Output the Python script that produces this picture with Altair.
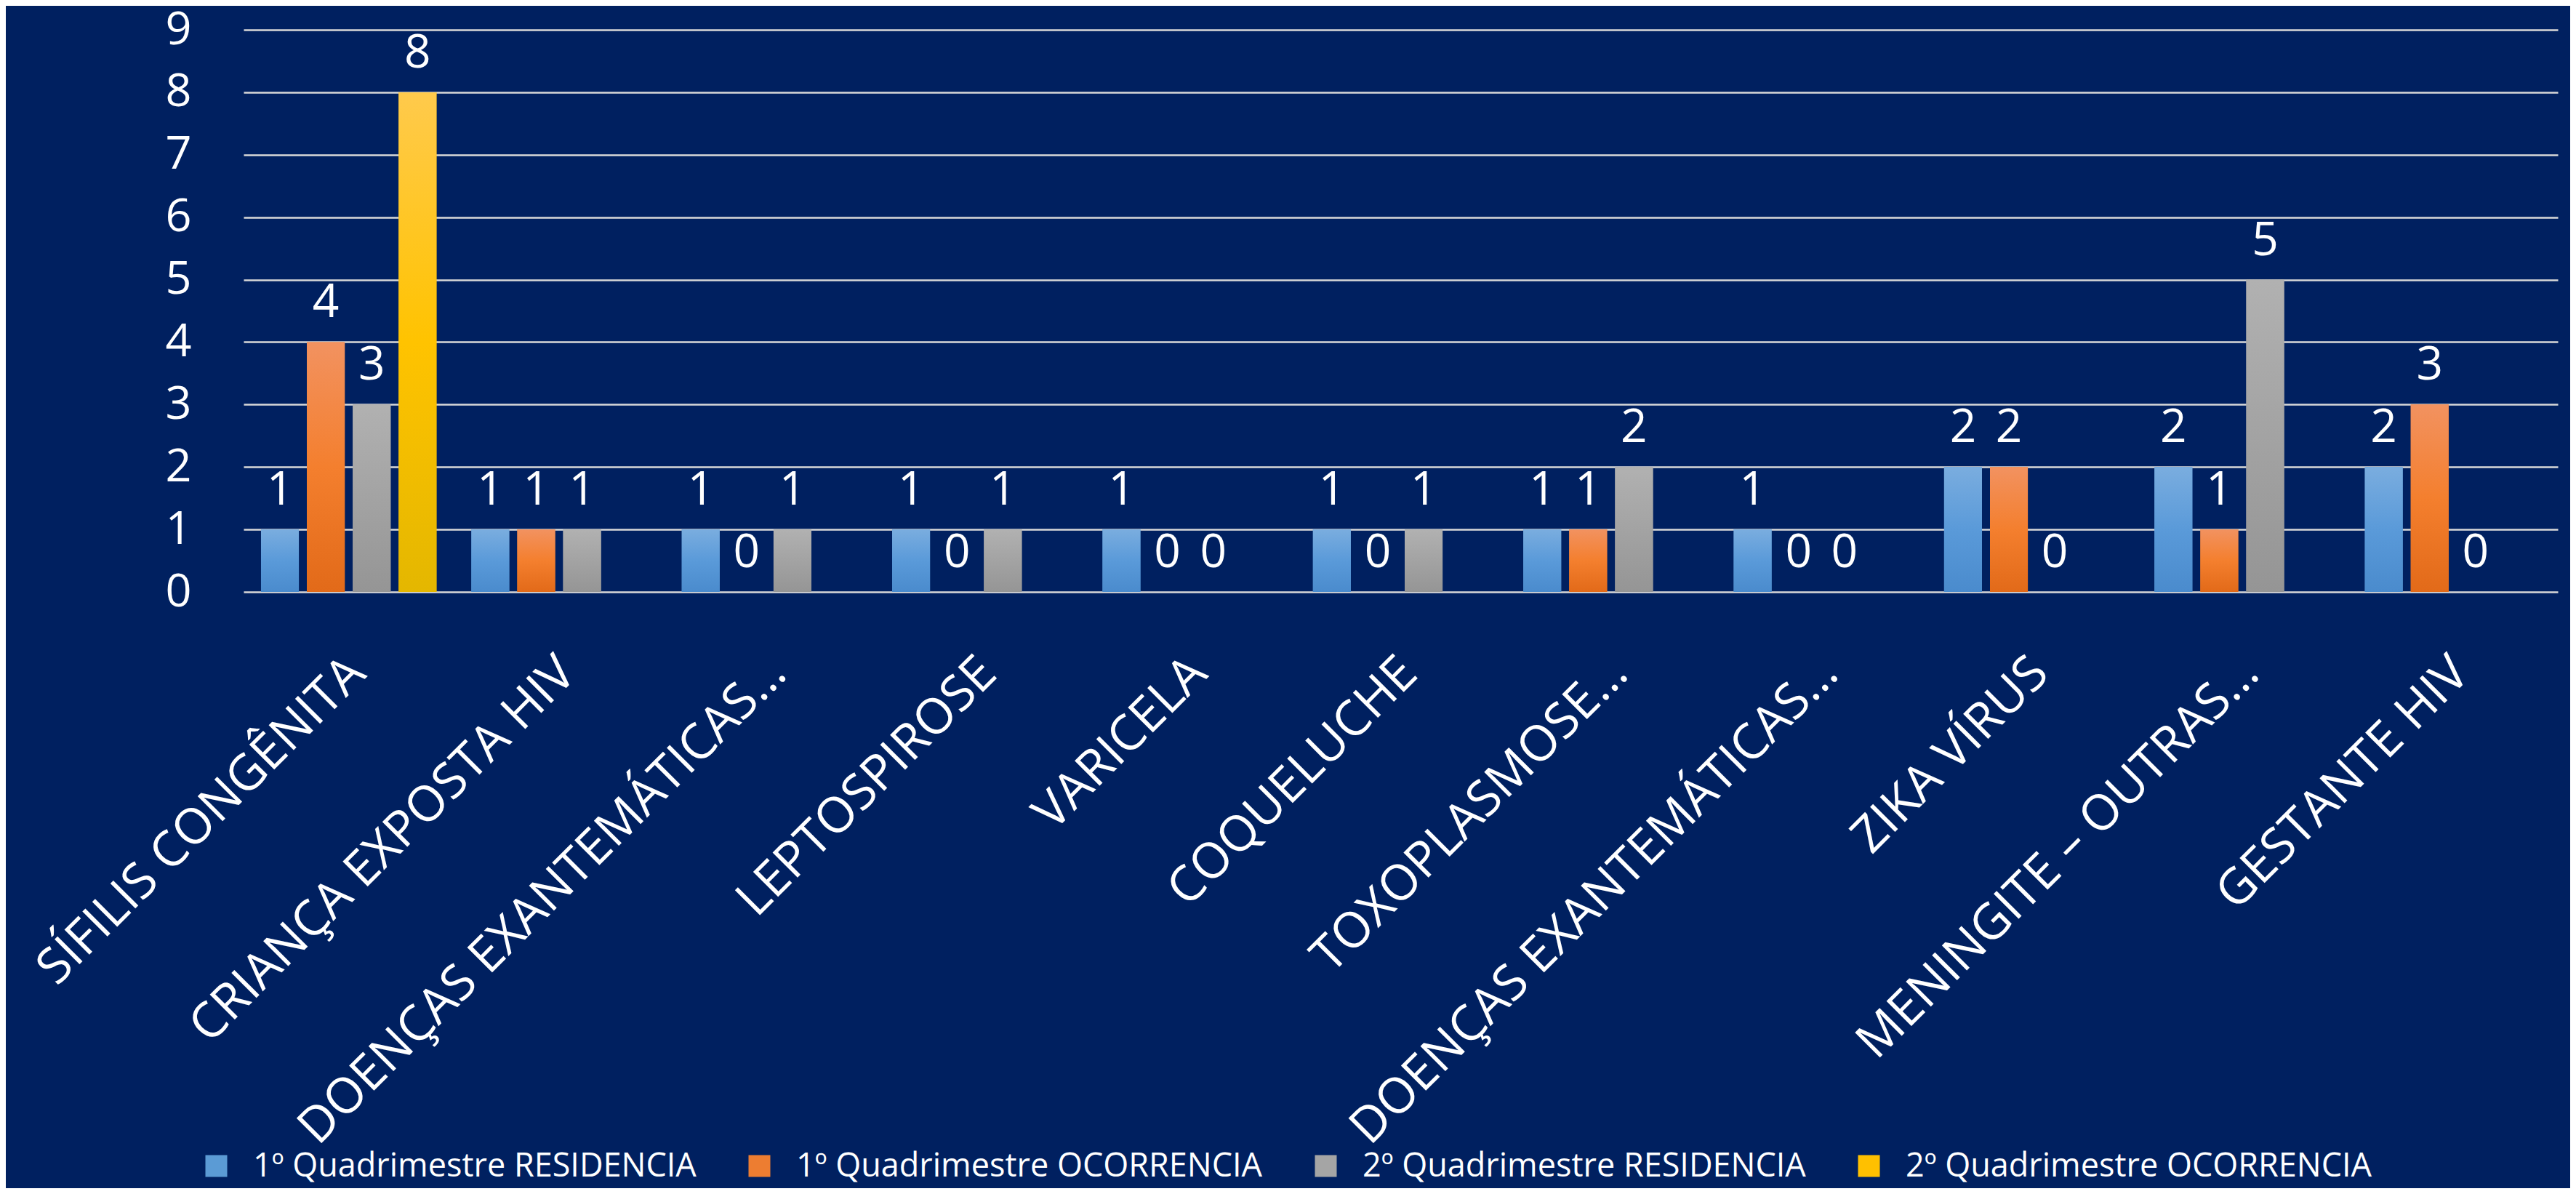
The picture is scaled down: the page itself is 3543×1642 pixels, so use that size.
import altair as alt
import pandas as pd

categories = [
    "SÍFILIS CONGÊNITA",
    "CRIANÇA EXPOSTA HIV",
    "DOENÇAS EXANTEMÁTICAS…",
    "LEPTOSPIROSE",
    "VARICELA",
    "COQUELUCHE",
    "TOXOPLASMOSE…",
    "DOENÇAS EXANTEMÁTICAS…\u200b",
    "ZIKA VÍRUS",
    "MENINGITE – OUTRAS…",
    "GESTANTE HIV",
]
series = [
    "1º Quadrimestre RESIDENCIA",
    "1º Quadrimestre OCORRENCIA",
    "2º Quadrimestre RESIDENCIA",
    "2º Quadrimestre OCORRENCIA",
]
res1 = [1, 1, 1, 1, 1, 1, 1, 1, 2, 2, 2]
oco1 = [4, 1, 0, 0, 0, 0, 1, 0, 2, 1, 3]
res2 = [3, 1, 1, 1, 0, 1, 2, 0, 0, 5, 0]
oco2 = [8, None, None, None, None, None, None, None, None, None, None]

solid_colors = ["#5b9bd5", "#ed7d31", "#a5a5a5", "#ffc000"]
gradients = [
    [("#7aaddf", 0), ("#5a9ad9", 0.5), ("#4a8bcd", 1)],
    [("#f29260", 0), ("#f47f2e", 0.5), ("#e26a19", 1)],
    [("#b1b1b1", 0), ("#a3a3a3", 0.5), ("#959595", 1)],
    [("#ffca4c", 0), ("#ffc300", 0.5), ("#e4b700", 1)],
]

rows = []
for s, vals in zip(series, [res1, oco1, res2, oco2]):
    for c, v in zip(categories, vals):
        if v is not None:
            rows.append({"cat": c, "series": s, "value": v})
df = pd.DataFrame(rows)

FONT = "Open Sans"

x = alt.X("cat:N", sort=categories,
          scale=alt.Scale(domain=categories, paddingInner=0, paddingOuter=0),
          axis=alt.Axis(title=None, labelAngle=315, labelAlign="right", labelBaseline="top",
                        labelPadding=77, labelOffset=-12, labelFontSize=68, labelColor="white",
                        labelFont=FONT, ticks=False, domain=False, grid=False,
                        labelLimit=1200, labelOverlap=False,
                        labelExpr="replace(datum.label, '\u200b', '')"))
xo = alt.XOffset("series:N", sort=series,
                 scale=alt.Scale(domain=series, paddingInner=0.175, paddingOuter=0.38))
y = alt.Y("value:Q", scale=alt.Scale(domain=[0, 9], nice=False),
          axis=alt.Axis(title=None, values=list(range(10)), tickCount=10, labelFontSize=63,
                        labelColor="white", labelFont=FONT, labelPadding=72, ticks=False,
                        domain=False, grid=True, gridColor="#d9d9d9", gridWidth=2.5))

base = alt.Chart(df).encode(x=x, xOffset=xo, y=y)

bars = base.mark_bar().encode(
    color=alt.Color("series:N", sort=series,
                    scale=alt.Scale(domain=series, range=solid_colors),
                    legend=alt.Legend(title=None, orient="none", direction="horizontal",
                                      columns=4, gridAlign="none",
                                      legendX=-60, legendY=1540, padding=0,
                                      labelFont=FONT, labelFontSize=45, labelColor="white",
                                      labelLimit=1200, labelOffset=28, columnPadding=64,
                                      symbolType="square",
                                      symbolSize=900, symbolStrokeWidth=0,
                                      symbolOpacity=1))
)

layers = [bars]
for s, g in zip(series, gradients):
    layers.append(
        base.transform_filter(alt.datum.series == s).mark_bar(
            fill=alt.Gradient(gradient="linear",
                              stops=[alt.GradientStop(color=c, offset=o) for c, o in g],
                              x1=0, x2=0, y1=0, y2=1)
        )
    )

text = base.mark_text(baseline="alphabetic", dy=-34, fontSize=64, color="white",
                      font=FONT).encode(text="value:Q")
layers.append(text)

chart = alt.layer(*layers).properties(
    width=3183, height=773,
    autosize=alt.AutoSizeParams(type="none"),
    padding={"left": 327, "top": 33, "right": 17, "bottom": 820},
    background="#002060",
).configure_view(stroke=None)

chart.save("out.html", embed_options={"renderer": "svg", "actions": False})
